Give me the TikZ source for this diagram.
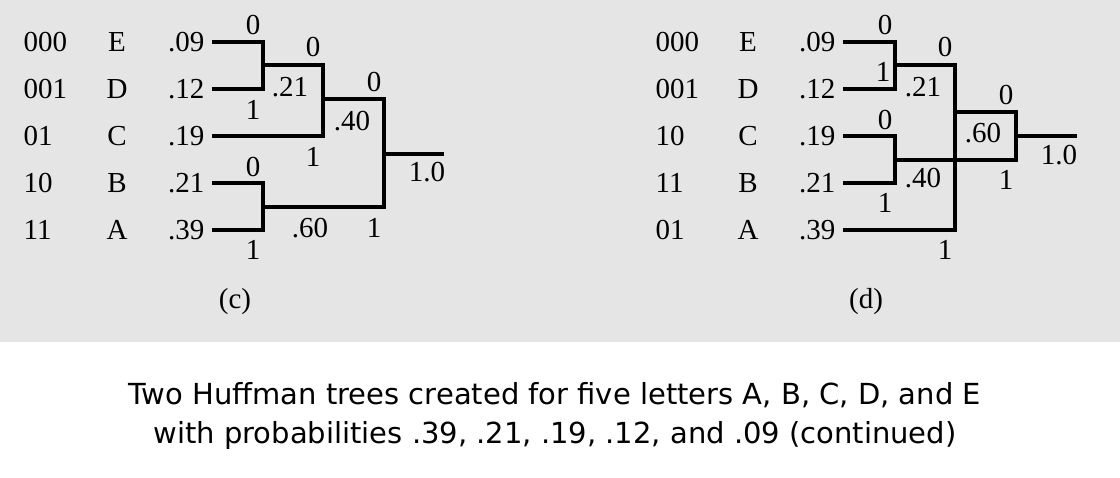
\documentclass[tikz,border=0pt]{standalone}
\usepackage{fontspec}
\setmainfont{Liberation Serif}
\newfontfamily\capfont{DejaVu Sans}
\begin{document}
\begin{tikzpicture}[x=1pt, y=-1pt, line width=3.2pt,
    lbl/.style = {font=\fontsize{29}{31}\selectfont, inner sep=0pt},
    code/.style = {lbl, anchor=west},
    prob/.style = {lbl, anchor=east, inner xsep=6pt},
    captext/.style = {font=\capfont\fontsize{29}{33}\selectfont, anchor=base, inner sep=0pt}]
    \useasboundingbox (0,0) rectangle (1120,478);
    \fill[black!10] (0,0) rectangle (1120,342);
    % tree (c)
    \node[code] (c1) at (22,42) {000};
    \node[code] (c2) at (22,89) {001};
    \node[code] (c3) at (22,136) {01};
    \node[code] (c4) at (22,183) {10};
    \node[code] (c5) at (22,230) {11};
    \node[lbl] (lE) at (117,42) {E};
    \node[lbl] (lD) at (117,89) {D};
    \node[lbl] (lC) at (117,136) {C};
    \node[lbl] (lB) at (117,183) {B};
    \node[lbl] (lA) at (117,230) {A};
    \node[prob] (pE) at (212,42) {.09};
    \node[prob] (pD) at (212,89) {.12};
    \node[prob] (pC) at (212,136) {.19};
    \node[prob] (pB) at (212,183) {.21};
    \node[prob] (pA) at (212,230) {.39};
    \coordinate (a1) at (263,65);
    \coordinate (a2) at (323,99);
    \coordinate (a3) at (384,154);
    \coordinate (a4) at (263,207);
    \coordinate (ar) at (444,154);
    \draw (pE.east) -| (a1) |- (pD.east);
    \draw (a1) -| (a2) |- (pC.east);
    \draw (pB.east) -| (a4) |- (pA.east);
    \draw (a2) -| (a3) |- (a4);
    \draw (a3) -- (ar);
    \node[lbl] at (253,25) {0};
    \node[lbl] at (253,110) {1};
    \node[lbl] at (290,87) {.21};
    \node[lbl] at (313,47) {0};
    \node[lbl] at (313,157) {1};
    \node[lbl] at (352,121) {.40};
    \node[lbl] at (374,82) {0};
    \node[lbl] at (253,167) {0};
    \node[lbl] at (253,250) {1};
    \node[lbl] at (310,228) {.60};
    \node[lbl] at (374,228) {1};
    \node[lbl] at (427,172) {1.0};
    \node[lbl] at (235,302) {(c)};
    % tree (d)
    \node[code] (d1) at (654,42) {000};
    \node[code] (d2) at (654,89) {001};
    \node[code] (d3) at (654,136) {10};
    \node[code] (d4) at (654,183) {11};
    \node[code] (d5) at (654,230) {01};
    \node[lbl] (mE) at (748,42) {E};
    \node[lbl] (mD) at (748,89) {D};
    \node[lbl] (mC) at (748,136) {C};
    \node[lbl] (mB) at (748,183) {B};
    \node[lbl] (mA) at (748,230) {A};
    \node[prob] (qE) at (843,42) {.09};
    \node[prob] (qD) at (843,89) {.12};
    \node[prob] (qC) at (843,136) {.19};
    \node[prob] (qB) at (843,183) {.21};
    \node[prob] (qA) at (843,230) {.39};
    \coordinate (b1) at (895,65);
    \coordinate (b2) at (895,160);
    \coordinate (b3) at (955,112);
    \coordinate (b4) at (1016,136);
    \coordinate (br) at (1077,136);
    \draw (qE.east) -| (b1) |- (qD.east);
    \draw (qC.east) -| (b2) |- (qB.east);
    \draw (b1) -| (b3) |- (qA.east);
    \draw (b3) -| (b4) |- (b2);
    \draw (b4) -- (br);
    \node[lbl] at (885,25) {0};
    \node[lbl] at (883,72) {1};
    \node[lbl] at (923,87) {.21};
    \node[lbl] at (945,47) {0};
    \node[lbl] at (885,120) {0};
    \node[lbl] at (923,178) {.40};
    \node[lbl] at (885,203) {1};
    \node[lbl] at (983,133) {.60};
    \node[lbl] at (1006,95) {0};
    \node[lbl] at (1006,180) {1};
    \node[lbl] at (1059,155) {1.0};
    \node[lbl] at (945,250) {1};
    \node[lbl] at (866,302) {(d)};
    % caption
    \node[captext] (t1) at (555,405) {Two Huffman trees created for five letters A, B, C, D, and E};
    \node[captext] (t2) at (555,443) {with probabilities .39, .21, .19, .12, and .09 (continued)};
\end{tikzpicture}
\end{document}
